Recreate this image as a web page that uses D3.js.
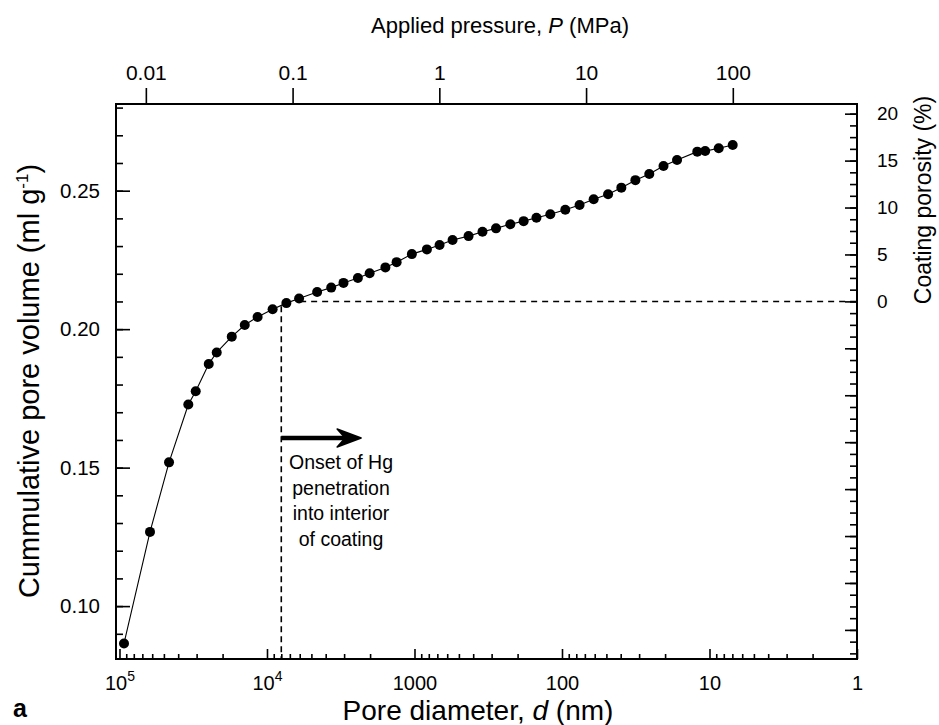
<!DOCTYPE html>
<html>
<head>
<meta charset="utf-8">
<script src="https://cdn.jsdelivr.net/npm/d3@7"></script>
<style>
  html, body { margin: 0; padding: 0; background: #fff; }
  svg { display: block; }
  text { font-family: "Liberation Sans", Arial, Helvetica, sans-serif; fill: #000; }
</style>
</head>
<body>
<svg id="chart" width="939" height="725"></svg>
<script>
// ---- data ----
const poreDiameter = [93200, 62100, 46150, 34150, 30420, 24830, 21920, 17330, 14150, 11580,
  9160, 7390, 6060, 4570, 3670, 3030, 2420, 2014, 1575, 1322,
  1042, 824, 676, 552, 430, 346, 280, 224, 182, 149,
  120, 95, 76, 61, 48.7, 39.6, 31.8, 25.6, 20.5, 16.6,
  12.1, 10.7, 8.66, 6.96];
const poreVolume = [0.0865, 0.1268, 0.1519, 0.1728, 0.1776, 0.1874, 0.1916, 0.1973, 0.2015, 0.2044,
  0.2072, 0.2094, 0.2111, 0.2134, 0.2150, 0.2167, 0.2185, 0.2202, 0.2223, 0.2242,
  0.2271, 0.2288, 0.2304, 0.2322, 0.2336, 0.2352, 0.2364, 0.2379, 0.2390, 0.2402,
  0.2415, 0.2431, 0.2448, 0.2469, 0.2487, 0.2511, 0.2538, 0.2560, 0.2589, 0.2611,
  0.2641, 0.2643, 0.2653, 0.2665];

const bottomTicks = [1e5, 1e4, 1000, 100, 10, 1];
const bottomLabels = [["10", "5"], ["10", "4"], ["1000"], ["100"], ["10"], ["1"]];
const topTicks = [0.01, 0.1, 1, 10, 100];
const topLabels = ["0.01", "0.1", "1", "10", "100"];
const leftTicks = [0.10, 0.15, 0.20, 0.25];
const leftLabels = ["0.10", "0.15", "0.20", "0.25"];
const rightTicks = [0, 5, 10, 15, 20];
const rightLabels = ["0", "5", "10", "15", "20"];

// annotation values
const onsetDiameter = 8000;          // vertical dashed line
const onsetVolumeTop = 0.2083;
const zeroPorosityVolume = 0.2100;   // horizontal dashed line (0 % porosity)
const hLineStartDiameter = 5960;
const arrowFrom = 8000, arrowTo = 2300, arrowVolume = 0.1607;
const noteLines = ["Onset of Hg", "penetration", "into interior", "of coating"];

// ---- layout ----
const L = 116, R = 857, T = 104, B = 659;
const svg = d3.select("#chart");

const x = d3.scaleLog().domain([1.056e5, 1]).range([L, R]);
const xTop = d3.scaleLog().domain([0.00626, 702]).range([L, R]);
const y = d3.scaleLinear().domain([0.0809, 0.2813]).range([B, T]);
const yRight = d3.scaleLinear().domain([-38.1, 21.03]).range([B, T]);

// minor tick sets
const bottomMinor = [];
for (let k = 0; k < 5; k++) for (let m = 2; m <= 9; m++) bottomMinor.push(m * Math.pow(10, k));
const leftMinor = d3.range(9, 29).map(v => v / 100);
const rightMinor = d3.range(-150, 81, 5).map(v => v / 4).filter(v => v >= -38 && v <= 21);

function clean(g) { g.select(".domain").remove(); g.selectAll("line").attr("stroke", "#000").attr("stroke-width", 1.6); }

// bottom axis (ticks inward)
svg.append("g").attr("transform", `translate(0,${B})`)
  .call(d3.axisBottom(x).tickValues(bottomMinor).tickSize(-5).tickFormat(""))
  .call(clean);
const gb = svg.append("g").attr("transform", `translate(0,${B})`)
  .call(d3.axisBottom(x).tickValues(bottomTicks).tickSize(-10).tickPadding(17).tickFormat(""))
  .call(clean);
gb.selectAll(".tick text").each(function(d, i) {
  const t = d3.select(this).attr("font-size", 20).attr("font-family", null);
  const lab = bottomLabels[i];
  t.append("tspan").text(lab[0]);
  if (lab[1]) t.append("tspan").attr("font-size", 14).attr("dy", -9).text(lab[1]);
});

// top axis (ticks outward)
svg.append("g").attr("transform", `translate(0,${T})`)
  .call(d3.axisTop(xTop).tickValues(topTicks).tickSize(16).tickPadding(8).tickFormat((d, i) => topLabels[i]))
  .call(clean)
  .selectAll("text").attr("font-size", 21).attr("font-family", null);

// left axis (ticks inward)
svg.append("g").attr("transform", `translate(${L},0)`)
  .call(d3.axisLeft(y).tickValues(leftMinor).tickSize(-7).tickFormat(""))
  .call(clean);
svg.append("g").attr("transform", `translate(${L},0)`)
  .call(d3.axisLeft(y).tickValues(leftTicks).tickSize(-14).tickPadding(16).tickFormat((d, i) => leftLabels[i]))
  .call(clean)
  .selectAll("text").attr("font-size", 20.5).attr("font-family", null);

// right axis (ticks inward)
svg.append("g").attr("transform", `translate(${R},0)`)
  .call(d3.axisRight(yRight).tickValues(rightMinor).tickSize(-7).tickFormat(""))
  .call(clean);
svg.append("g").attr("transform", `translate(${R},0)`)
  .call(d3.axisRight(yRight).tickValues(d3.range(-35, 21, 5)).tickSize(-12).tickPadding(20)
    .tickFormat(d => { const i = rightTicks.indexOf(d); return i >= 0 ? rightLabels[i] : ""; }))
  .call(clean)
  .selectAll("text").attr("font-size", 19).attr("font-family", null);

// frame
svg.append("rect").attr("x", L).attr("y", T).attr("width", R - L).attr("height", B - T)
  .attr("fill", "none").attr("stroke", "#000").attr("stroke-width", 2);

// dashed guide lines
svg.append("line")
  .attr("x1", x(onsetDiameter)).attr("x2", x(onsetDiameter))
  .attr("y1", y(onsetVolumeTop)).attr("y2", B)
  .attr("stroke", "#000").attr("stroke-width", 1.6).attr("stroke-dasharray", "6,4");
svg.append("line")
  .attr("x1", x(hLineStartDiameter)).attr("x2", R)
  .attr("y1", y(zeroPorosityVolume)).attr("y2", y(zeroPorosityVolume))
  .attr("stroke", "#000").attr("stroke-width", 1.4).attr("stroke-dasharray", "6,5");

// data line and markers
const pts = poreDiameter.map((d, i) => [d, poreVolume[i]]);
svg.append("path").datum(pts)
  .attr("fill", "none").attr("stroke", "#000").attr("stroke-width", 1.1)
  .attr("d", d3.line().x(p => x(p[0])).y(p => y(p[1])));
svg.append("g").selectAll("circle").data(pts).join("circle")
  .attr("cx", p => x(p[0])).attr("cy", p => y(p[1])).attr("r", 5).attr("fill", "#000");

// arrow
const ax0 = x(arrowFrom), ax1 = x(arrowTo), ay = y(arrowVolume);
svg.append("line").attr("x1", ax0).attr("x2", ax1 - 6).attr("y1", ay).attr("y2", ay)
  .attr("stroke", "#000").attr("stroke-width", 4.5);
svg.append("path")
  .attr("d", `M${ax1},${ay} L${ax1 - 24},${ay - 9} L${ax1 - 16},${ay} L${ax1 - 24},${ay + 9} Z`)
  .attr("fill", "#000").attr("stroke", "#000").attr("stroke-width", 1.5).attr("stroke-linejoin", "round");

// annotation text
const noteX = 341;
svg.append("text").attr("text-anchor", "middle").attr("font-size", 19.5)
  .selectAll("tspan").data(noteLines).join("tspan")
  .attr("x", noteX).attr("y", (d, i) => 469 + i * 25.5).text(d => d);

// axis titles
const topTitle = svg.append("text").attr("x", 500).attr("y", 33).attr("text-anchor", "middle").attr("font-size", 22);
topTitle.append("tspan").text("Applied pressure, ");
topTitle.append("tspan").attr("font-style", "italic").text("P");
topTitle.append("tspan").text(" (MPa)");

const botTitle = svg.append("text").attr("x", 478).attr("y", 720).attr("text-anchor", "middle").attr("font-size", 28);
botTitle.append("tspan").text("Pore diameter, ");
botTitle.append("tspan").attr("font-style", "italic").text("d");
botTitle.append("tspan").text(" (nm)");

const leftTitle = svg.append("text").attr("transform", "translate(39,381) rotate(-90)")
  .attr("text-anchor", "middle").attr("font-size", 29);
leftTitle.append("tspan").text("Cummulative pore volume (ml g");
leftTitle.append("tspan").attr("font-size", 17).attr("dy", -11).text("-1");
leftTitle.append("tspan").attr("dy", 11).text(")");

svg.append("text").attr("transform", "translate(931,200) rotate(-90)")
  .attr("text-anchor", "middle").attr("font-size", 23).text("Coating porosity (%)");

svg.append("text").attr("x", 13).attr("y", 717).attr("font-size", 25).attr("font-weight", "bold").text("a");
</script>
</body>
</html>
